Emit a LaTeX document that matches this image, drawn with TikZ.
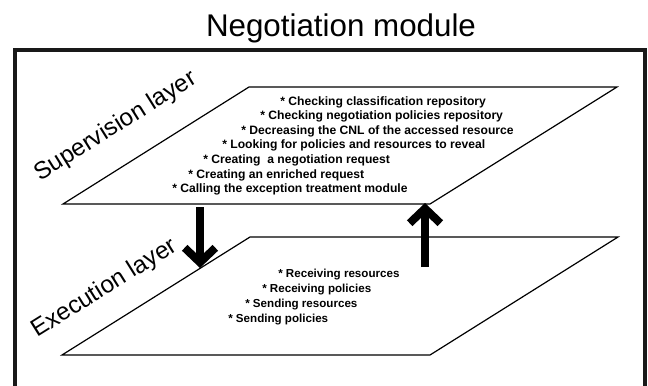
\documentclass[tikz,border=0pt]{standalone}
\usepackage{fontspec}
\setmainfont{Liberation Sans}
\usetikzlibrary{arrows.meta}

\tikzset{
  heading/.style={font=\fontsize{23.5}{27}\selectfont, anchor=base, inner sep=0pt},
  frame/.style={draw, line width=3pt, color=black!90},
  layer/.style={draw, line width=0.9pt},
  layername/.style={font=\fontsize{18.2}{20}\selectfont, rotate=32, anchor=base, inner sep=0pt},
  item/.style={font=\bfseries\fontsize{9.1}{11}\selectfont, anchor=base west, inner sep=0pt},
  lowitem/.style={item, font=\bfseries\fontsize{8.7}{10}\selectfont},
  bigarrow/.style={line width=6pt, -{Straight Barb[length=11pt, width=23pt, sharp]}},
}

\begin{document}
\begin{tikzpicture}[x=0.75pt, y=-0.75pt]
  \useasboundingbox (0,0) rectangle (648,385);
  % Define frame and title
  \node[heading] (title) at (341,37) {Negotiation module};
  \draw[frame] (15,50) rectangle (645,400);
  % Define layers
  \coordinate (snw) at (249,87);
  \coordinate (sne) at (617,87);
  \coordinate (sse) at (430,204);
  \coordinate (ssw) at (63,204);
  \coordinate (enw) at (250,237);
  \coordinate (ene) at (618,237);
  \coordinate (ese) at (430,355);
  \coordinate (esw) at (62,355);
  \draw[layer] (snw) -- (sne) -- (sse) -- (ssw) -- cycle;
  \draw[layer] (enw) -- (ene) -- (ese) -- (esw) -- cycle;
  \node[layername] (supname) at (119,132) {Supervision layer};
  \node[layername] (exename) at (108,294) {Execution layer};
  % Supervision tasks
  \node[item] (s1) at (280,105) {* Checking classification repository};
  \node[item] (s2) at (260,119.6) {* Checking negotiation policies repository};
  \node[item] (s3) at (241,134.2) {* Decreasing the CNL of the accessed resource};
  \node[item] (s4) at (222,148.8) {* Looking for policies and resources to reveal};
  \node[item] (s5) at (203,163.4) {* Creating\ \ a negotiation request};
  \node[item] (s6) at (188,178) {* Creating an enriched request};
  \node[item] (s7) at (172,192.6) {* Calling the exception treatment module};
  % Execution tasks
  \node[lowitem] (e1) at (278,277) {* Receiving resources};
  \node[lowitem] (e2) at (262,292) {* Receiving policies};
  \node[lowitem] (e3) at (245,307) {* Sending resources};
  \node[lowitem] (e4) at (228,322) {* Sending policies};
  % Connect layers
  \coordinate (downtop) at (200,207);
  \coordinate (downtip) at (200,268);
  \coordinate (upbot) at (425,267);
  \coordinate (uptip) at (425,203);
  \draw[bigarrow] (downtop) -- (downtip);
  \draw[bigarrow] (upbot) -- (uptip);
\end{tikzpicture}
\end{document}
